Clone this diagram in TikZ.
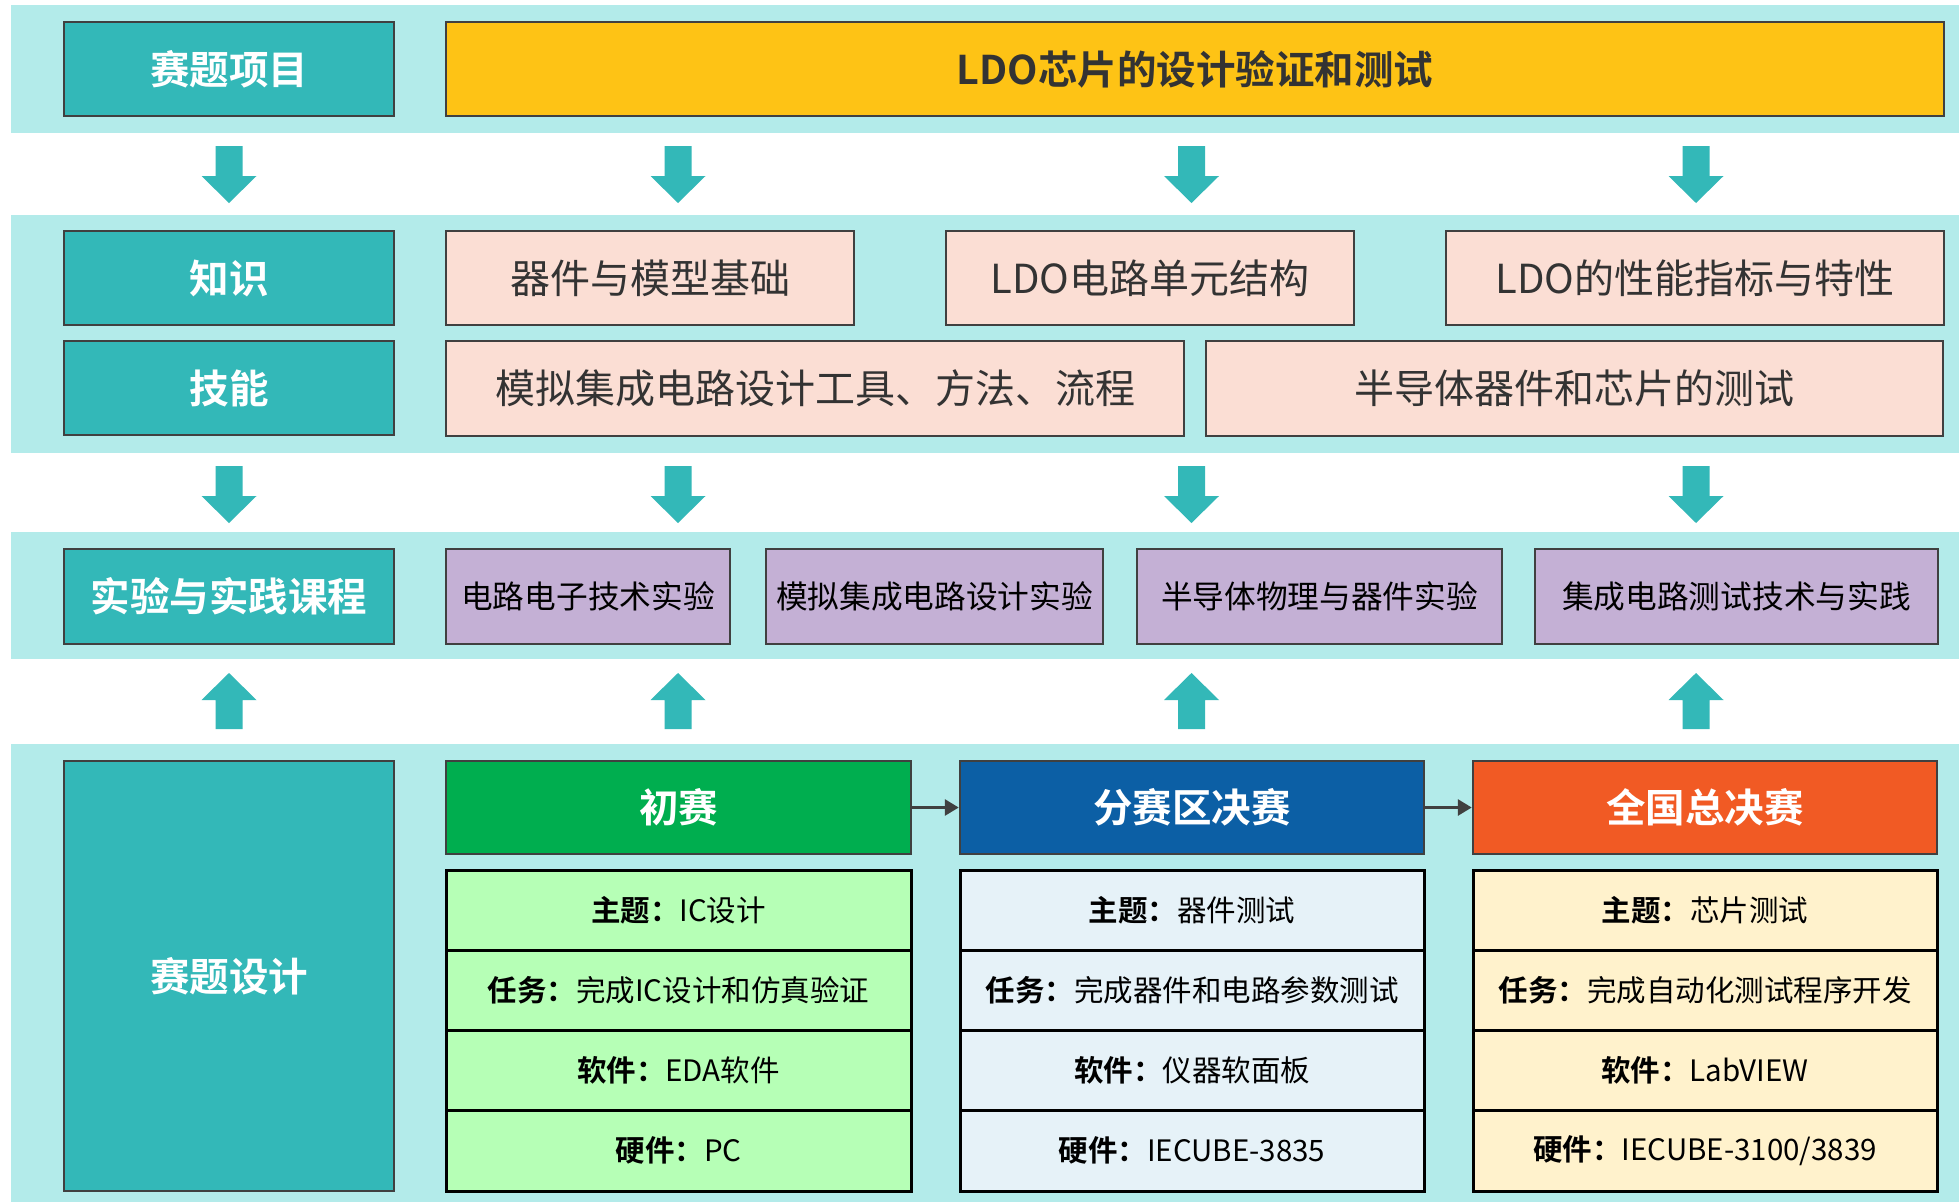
\documentclass[tikz,border=0pt]{standalone}
\usepackage{fontspec}
\setmainfont{Noto Sans CJK SC}[BoldFont={Noto Sans CJK SC Bold}]
\usetikzlibrary{arrows.meta}
\definecolor{bandc}{HTML}{B3EBEA}
\definecolor{tealbox}{HTML}{33B8B8}
\definecolor{edgec}{HTML}{404040}
\definecolor{ldoc}{HTML}{FEC315}
\definecolor{pinkc}{HTML}{FBDED4}
\definecolor{purpc}{HTML}{C4B0D5}
\definecolor{sgreen}{HTML}{00AE4F}
\definecolor{sblue}{HTML}{0C5FA5}
\definecolor{sorange}{HTML}{F15A24}
\definecolor{tgreen}{HTML}{B6FFB6}
\definecolor{tblue}{HTML}{E6F2F8}
\definecolor{tyellow}{HTML}{FFF2CC}
\definecolor{txtc}{HTML}{333333}
\newcommand\bx[7]{\node[#6, minimum width={(#4)-(#2)}, minimum height={(#5)-(#3)}] (#1) at ({((#2)+(#4))/2},{((#3)+(#5))/2}) {#7};}
\tikzset{
  box/.style={draw=edgec, line width=2.5pt, inner sep=0pt, align=center},
  titlebox/.style={box, fill=tealbox, text=white, font=\fontsize{39.5}{44}\selectfont\bfseries},
  pinkbox/.style={box, fill=pinkc, text=txtc, font=\fontsize{40}{44}\selectfont},
  expbox/.style={box, fill=purpc, text=black, font=\fontsize{31.7}{36}\selectfont},
  stagebox/.style={box, text=white, font=\fontsize{39.5}{44}\selectfont\bfseries},
  cell/.style={draw=black, line width=3pt, inner sep=0pt, text=black, font=\fontsize{29.5}{34}\selectfont},
  flow/.style={draw=edgec, line width=3pt, -{Triangle[length=14pt,width=16pt]}},
  pics/downarr/.style={code={\fill[tealbox] (-13.5,0) -- (13.5,0) -- (13.5,30) -- (27.5,30) -- (0,57) -- (-27.5,30) -- (-13.5,30) -- cycle;}},
  pics/uparr/.style={code={\fill[tealbox] (-13.5,0) -- (13.5,0) -- (13.5,-29) -- (27.5,-29) -- (0,-56) -- (-27.5,-29) -- (-13.5,-29) -- cycle;}}
}
\begin{document}
\begin{tikzpicture}[x=1pt,y=-1pt]
\useasboundingbox[fill=white] (0,0) rectangle (1959,1202);
% bands
\fill[bandc] (11,5) rectangle (1959,133);
\fill[bandc] (11,215) rectangle (1959,453);
\fill[bandc] (11,532) rectangle (1959,659);
\fill[bandc] (11,744) rectangle (1959,1202);
% row 1
\bx{xm}{64}{22}{394}{116}{titlebox}{赛题项目}
\bx{ldo}{446}{22}{1944}{116}{box,fill=ldoc,text=txtc,font=\fontsize{39.5}{44}\selectfont\bfseries}{LDO芯片的设计验证和测试}
% arrows row 1
\foreach \cx in {229,678,1191.5,1696} \pic at (\cx,146) {downarr};
% row 2
\bx{zs}{64}{231}{394}{325}{titlebox}{知识}
\bx{k1}{446}{231}{854}{325}{pinkbox}{器件与模型基础}
\bx{k2}{946}{231}{1354}{325}{pinkbox}{LDO电路单元结构}
\bx{k3}{1446}{231}{1944}{325}{pinkbox}{LDO的性能指标与特性}
\bx{jn}{64}{341}{394}{435}{titlebox}{技能}
\bx{j1}{446}{341}{1184}{436}{pinkbox}{模拟集成电路设计工具、方法、流程}
\bx{j2}{1206}{341}{1943}{436}{pinkbox}{半导体器件和芯片的测试}
% arrows row 2
\foreach \cx in {229,678,1191.5,1696} \pic at (\cx,466) {downarr};
% row 3
\bx{sy}{64}{549}{394}{644}{titlebox}{实验与实践课程}
\bx{e1}{446}{549}{730}{644}{expbox}{电路电子技术实验}
\bx{e2}{766}{549}{1103}{644}{expbox}{模拟集成电路设计实验}
\bx{e3}{1137}{549}{1502}{644}{expbox}{半导体物理与器件实验}
\bx{e4}{1535}{549}{1938}{644}{expbox}{集成电路测试技术与实践}
% up arrows
\foreach \cx in {229,678,1191.5,1696} \pic at (\cx,729) {uparr};
% row 4
\bx{sj}{64}{761}{394}{1191}{titlebox}{赛题设计}
\bx{s1}{446}{761}{911}{854}{stagebox,fill=sgreen}{初赛}
\bx{s2}{960}{761}{1424}{854}{stagebox,fill=sblue}{分赛区决赛}
\bx{s3}{1473}{761}{1937}{854}{stagebox,fill=sorange}{全国总决赛}
\draw[flow] (s1) -- (s2);
\draw[flow] (s2) -- (s3);
% tables
\bx{a1}{446}{870}{911}{950}{cell,fill=tgreen}{\textbf{主题：}IC设计}
\bx{a2}{446}{950}{911}{1030}{cell,fill=tgreen}{\textbf{任务：}完成IC设计和仿真验证}
\bx{a3}{446}{1030}{911}{1110}{cell,fill=tgreen}{\textbf{软件：}EDA软件}
\bx{a4}{446}{1110}{911}{1191}{cell,fill=tgreen}{\textbf{硬件：}PC}
\bx{b1}{960}{870}{1424}{950}{cell,fill=tblue}{\textbf{主题：}器件测试}
\bx{b2}{960}{950}{1424}{1030}{cell,fill=tblue}{\textbf{任务：}完成器件和电路参数测试}
\bx{b3}{960}{1030}{1424}{1110}{cell,fill=tblue}{\textbf{软件：}仪器软面板}
\bx{b4}{960}{1110}{1424}{1191}{cell,fill=tblue}{\textbf{硬件：}IECUBE-3835}
\bx{c1}{1473}{870}{1937}{950}{cell,fill=tyellow}{\textbf{主题：}芯片测试}
\bx{c2}{1473}{950}{1937}{1030}{cell,fill=tyellow}{\textbf{任务：}完成自动化测试程序开发}
\bx{c3}{1473}{1030}{1937}{1110}{cell,fill=tyellow}{\textbf{软件：}LabVIEW}
\bx{c4}{1473}{1110}{1937}{1191}{cell,fill=tyellow}{\textbf{硬件：}IECUBE-3100/3839}
\end{tikzpicture}
\end{document}
